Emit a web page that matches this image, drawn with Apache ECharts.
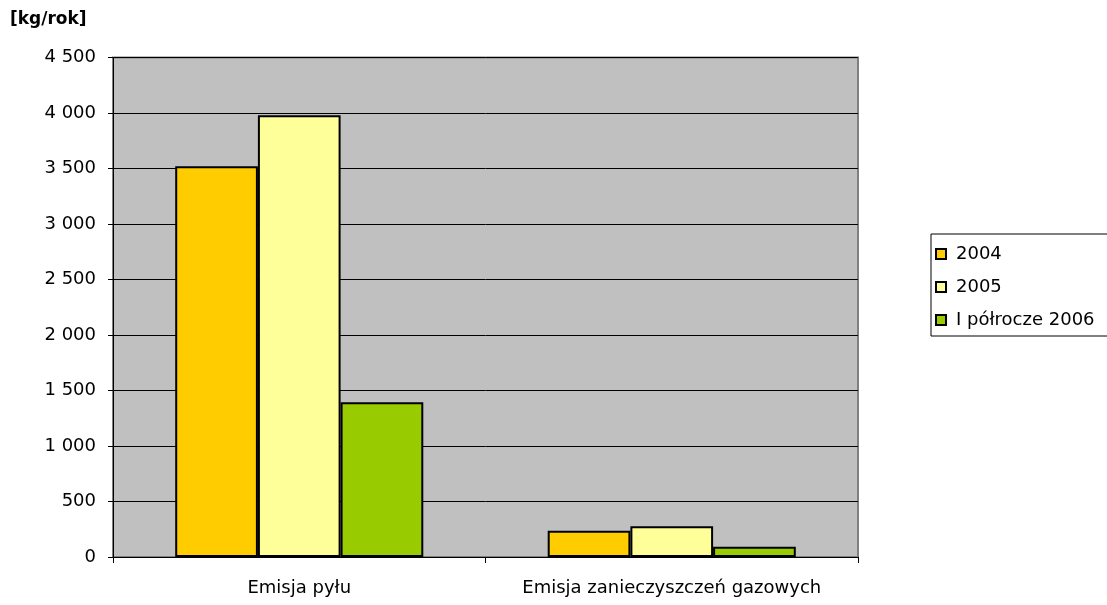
<!DOCTYPE html>
<html>
<head>
<meta charset="utf-8">
<script src="https://cdn.jsdelivr.net/npm/echarts@6/dist/echarts.min.js"></script>
<style>
  html, body { margin: 0; padding: 0; background: #fff; }
  #chart { width: 1107px; height: 605px; }
</style>
</head>
<body>
<div id="chart"></div>
<script>
// Emission categories and yearly values [kg/rok]
const categories = ['Emisja pyłu', 'Emisja zanieczyszczeń gazowych'];
const seriesNames = ['2004', '2005', 'I półrocze 2006'];
const values2004 = [3520, 237];
const values2005 = [3980, 276];
const values2006h1 = [1395, 93];
const colors = ['#FFCC00', '#FFFF99', '#99CC00'];

const font = '"DejaVu Sans", Arial, sans-serif';
const fmt = v => String(v).replace(/\B(?=(\d{3})+(?!\d))/g, ' ');

const chart = echarts.init(document.getElementById('chart'), null, { renderer: 'canvas' });

const mkSeries = (name, data, color) => ({
  name: name,
  type: 'bar',
  data: data,
  barGap: '0%',
  barCategoryGap: '33.4%',
  itemStyle: { color: color, borderColor: '#000', borderWidth: 2 },
  emphasis: { disabled: true }
});

chart.setOption({
  animation: false,
  backgroundColor: '#fff',
  title: {
    text: '[kg/rok]',
    left: 5,
    top: 6,
    textStyle: { fontFamily: font, fontSize: 17, fontWeight: 'bold', color: '#000' }
  },
  legend: {
    left: 931,
    top: 234,
    orient: 'vertical',
    icon: 'rect',
    itemWidth: 10,
    itemHeight: 10,
    itemGap: 15,
    padding: [11, 40, 7, 4],
    borderColor: '#000',
    borderWidth: 1,
    textStyle: { fontFamily: font, fontSize: 18, color: '#000', padding: [0, 0, 0, 5] },
    data: seriesNames
  },
  grid: {
    left: 113,
    right: 249,
    top: 57.5,
    bottom: 48,
    show: true,
    backgroundColor: '#C0C0C0',
    borderColor: '#808080',
    borderWidth: 2,
    containLabel: false
  },
  xAxis: {
    type: 'category',
    data: categories,
    axisLine: { lineStyle: { color: '#000', width: 1 } },
    axisTick: { show: true, length: 6, lineStyle: { color: '#000' } },
    axisLabel: { interval: 0, fontFamily: font, fontSize: 18, color: '#000', margin: 22 }
  },
  yAxis: {
    type: 'value',
    min: 0,
    max: 4500,
    interval: 500,
    axisLine: { show: true, lineStyle: { color: '#000', width: 1 } },
    axisTick: { show: true, length: 5, lineStyle: { color: '#000' } },
    splitLine: { show: true, lineStyle: { color: '#000', width: 1 } },
    axisLabel: { fontFamily: font, fontSize: 18, color: '#000', margin: 17, formatter: fmt }
  },
  series: [
    mkSeries(seriesNames[0], values2004, colors[0]),
    mkSeries(seriesNames[1], values2005, colors[1]),
    mkSeries(seriesNames[2], values2006h1, colors[2])
  ]
});
</script>
</body>
</html>
